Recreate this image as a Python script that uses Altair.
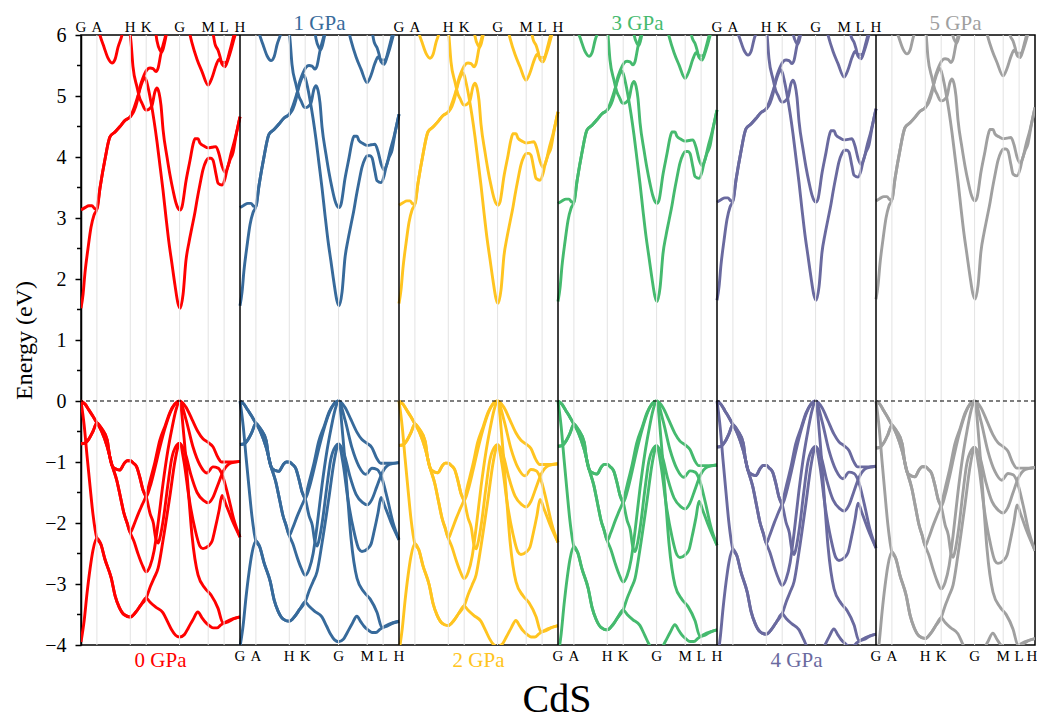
import altair as alt
import pandas as pd

# ---------------- data ----------------
PANELS = ["0 GPa", "1 GPa", "2 GPa", "3 GPa", "4 GPa", "5 GPa"]
COLORS = ["#FF0000", "#376A9B", "#FFC420", "#45BA6E", "#6A6A9F", "#A0A0A0"]
# conduction-band minimum (eV) and valence-band width factor read per panel
CBM = [1.52, 1.56, 1.60, 1.63, 1.65, 1.67]
VB_SCALE = [1.00, 1.02, 1.04, 1.06, 1.08, 1.10]

# k-path position (percent of path) of the high-symmetry points
SYM_POS = [0, 10, 31, 41, 62, 80, 90, 100]
SYM_LBL = ["G", "A", "H", "K", "G", "M", "L", "H"]

Y_TICKS = [-4, -3, -2, -1, 0, 1, 2, 3, 4, 5, 6]
Y_MINOR = [-3.5, -2.5, -1.5, -0.5, 0.5, 1.5, 2.5, 3.5, 4.5, 5.5]

# valence bands of the 0 GPa panel: (k, E)
VB1 = [(0, 0), (2.5, -0.05), (5, -0.15), (7.5, -0.25), (10, -0.36), (13, -0.45), (16.5, -0.64),
       (18, -0.9), (20, -1.08), (22.5, -1.12), (24.5, -1.13), (27, -1.03), (29, -0.98), (31, -0.98),
       (33, -1.02), (35, -1.08), (37, -1.25), (39, -1.46), (41, -1.57), (43.5, -1.85), (45.5, -2.0),
       (47, -2.25), (48.5, -2.33), (50, -2.2), (52, -1.9), (54.5, -1.4), (57, -0.95), (60, -0.73),
       (62, -0.69), (65.5, -0.85), (69, -1.2), (73, -1.5), (77, -1.63), (80, -1.67), (83, -1.58),
       (86, -1.38), (89.5, -1.15), (94, -1.02), (100, -0.99)]
VB2 = [(0, -0.7), (2.5, -0.69), (5, -0.62), (7.5, -0.5), (10, -0.36), (13, -0.5), (16.5, -0.75),
       (19.5, -1.05), (22.5, -1.3), (25, -1.6), (27, -1.84), (29, -2.0), (31, -2.16), (33, -2.05),
       (36, -1.85), (38.5, -1.7), (41, -1.55), (43.5, -1.3), (46.5, -1.0), (49.5, -0.65), (53, -0.4),
       (56, -0.18), (59, -0.05), (62, 0), (66, -0.1), (69.8, -0.3), (73.5, -0.5), (76.7, -0.62),
       (80, -0.68), (83, -0.75), (86, -0.92), (88.5, -1.0), (92.5, -1.0), (96, -1.0), (100, -0.99)]
VB3 = [(0, 0), (2, -0.4), (3.8, -0.9), (5.7, -1.4), (7.5, -1.85), (10, -2.25), (12.5, -2.35),
       (15, -2.59), (19, -2.9), (21.5, -3.2), (24, -3.38), (27, -3.5), (31, -3.54), (34.5, -3.46),
       (37.5, -3.35), (41, -3.23), (43.5, -3.3), (47, -3.38), (51.5, -3.47), (54.5, -3.62),
       (57, -3.75), (59.5, -3.84), (62, -3.87), (65, -3.83), (67.5, -3.72), (70.5, -3.58),
       (73.5, -3.46), (76, -3.55), (78, -3.62), (80.5, -3.68), (83, -3.72), (85.5, -3.72),
       (88, -3.67), (93.5, -3.59), (100, -3.54)]
VB4 = [(0, -3.95), (2, -3.6), (3.8, -3.15), (5.7, -2.75), (7.5, -2.45), (10, -2.25), (12.5, -2.35),
       (15, -2.59), (19, -2.9), (21.5, -3.2), (24, -3.38), (27, -3.5), (31, -3.54), (34.5, -3.46),
       (37.5, -3.35), (41, -3.23), (43.5, -3.05), (46, -2.9), (48.5, -2.74), (51.5, -2.3),
       (56, -1.54), (59, -1.0), (61, -0.75), (62, -0.69), (64.8, -1.0), (68, -1.6), (71.7, -2.1),
       (74.8, -2.38), (76.7, -2.42), (80, -2.38), (82.4, -2.3), (84.3, -2.1), (86.8, -1.8),
       (88.7, -1.55), (91.2, -1.7), (95, -1.95), (100, -2.23)]
VB5 = [(0, 0), (2.5, -0.05), (5, -0.15), (7.5, -0.25), (10, -0.36), (13, -0.5), (16.5, -0.75),
       (19.5, -1.05), (22.5, -1.3), (25, -1.6), (27, -1.84), (29, -2.0), (31, -2.16), (33.3, -2.3),
       (35.8, -2.5), (38.4, -2.68), (41, -2.8), (43.5, -2.7), (46, -2.45), (48.5, -2.0),
       (51.6, -1.35), (54.7, -0.8), (57.2, -0.45), (59.7, -0.15), (62, 0), (66, -0.3),
       (70.4, -0.75), (74.8, -1.05), (79.2, -1.18), (83, -1.08), (86.2, -1.1), (88.7, -1.2),
       (92.5, -1.55), (96.2, -1.95), (100, -2.23)]
VB6 = [(0, -0.7), (2.5, -0.69), (5, -0.62), (7.5, -0.5), (10, -0.36), (13, -0.45), (16.5, -0.64),
       (18, -0.9), (20, -1.08), (22.5, -1.12), (24.5, -1.13), (27, -1.03), (29, -0.98), (31, -0.98),
       (33, -1.02), (35, -1.08), (37, -1.25), (39, -1.46), (41, -1.57), (43.5, -1.4), (46.5, -1.1),
       (49.7, -0.75), (52.8, -0.45), (56, -0.2), (59, -0.05), (62, 0), (64.8, -0.6), (67.3, -1.4),
       (69.8, -2.2), (73.6, -2.85), (78, -3.07), (81.8, -3.18), (86.2, -3.4), (89.3, -3.64),
       (92.5, -3.62), (96.2, -3.57), (100, -3.54)]

# conduction bands of the 0 GPa panel: (k, E)
CB1 = [(0, 1.52), (1.3, 1.75), (2.5, 2.1), (4.4, 2.5), (6.3, 2.85), (8.2, 3.05), (10, 3.15),
       (12, 3.5), (15, 3.95), (18.2, 4.33), (21.4, 4.41), (24.5, 4.5), (27.7, 4.6), (31, 4.66),
       (33.3, 4.8), (35.8, 5.0), (38.4, 5.22), (40.3, 5.3), (42.1, 5.15), (44, 4.9), (45.9, 4.6),
       (47.8, 4.25), (49.7, 3.85), (51.6, 3.45), (53.5, 3.0), (55.3, 2.6), (57.2, 2.25),
       (59.1, 1.9), (61, 1.6), (62.3, 1.52), (64.2, 1.75), (66, 2.3), (67.9, 2.6), (69.8, 2.85),
       (71.7, 3.1), (73, 3.3), (74.8, 3.55), (76.7, 3.79), (78.6, 3.93), (80, 3.98), (81.8, 3.98),
       (83, 3.95), (84.9, 3.72), (86.2, 3.57), (88.7, 3.54), (90.6, 3.65), (91.8, 3.79),
       (93.7, 3.95), (95.6, 4.07), (97.5, 4.35), (100, 4.66)]
CB2 = [(0, 3.13), (2.5, 3.17), (5, 3.2), (6.9, 3.2), (8.8, 3.15), (10, 3.15), (12, 3.5),
       (15, 3.95), (18.2, 4.33), (21.4, 4.41), (24.5, 4.5), (27.7, 4.6), (31, 4.66), (33.3, 4.75),
       (35.2, 4.9), (37.1, 5.15), (39, 5.3), (41.5, 5.43), (43.4, 5.46), (45.3, 5.45), (47.2, 5.4),
       (48.4, 5.45), (50.3, 5.7), (52.8, 5.95), (54.7, 6.15)]
CB3 = [(30.2, 6.15), (31.4, 5.9), (32.7, 5.48), (35.2, 5.15), (37.1, 4.95), (38.4, 4.88),
       (40.3, 4.78), (41.5, 4.77), (43.4, 4.8), (44.7, 4.85), (46.5, 5.07), (47.8, 5.13),
       (49.1, 5.05), (50.3, 4.85), (51.6, 4.45), (54.1, 4.0), (56, 3.7), (57.9, 3.45),
       (59.7, 3.25), (61, 3.16), (62.3, 3.13), (63.5, 3.18), (66, 3.6), (68.6, 3.95), (70.4, 4.2),
       (71.7, 4.3), (73.6, 4.3), (74.8, 4.23), (77.4, 4.18), (80, 4.15), (82.4, 4.16),
       (84.9, 4.17), (86.8, 4.05), (88.7, 3.85), (90.6, 3.75), (92.5, 3.85), (94.3, 4.05),
       (96.9, 4.3), (100, 4.66)]
CB4 = [(10, 6.2), (11.9, 6.0), (14.5, 5.8), (17, 5.62), (19.5, 5.54), (21.4, 5.6), (23.3, 5.8),
       (25.8, 6.0), (27, 6.15)]
CB5 = [(46.5, 6.15), (47.8, 5.9), (49.7, 5.75), (50.9, 5.72), (52.8, 5.9), (54.7, 6.15)]
CB6 = [(67.3, 6.15), (69.8, 5.87), (73, 5.6), (76.1, 5.4), (79.9, 5.18), (82.4, 5.3), (84.9, 5.5),
       (86.8, 5.6), (88.7, 5.55), (91.2, 5.55), (93.7, 5.75), (96.2, 6.0), (98.1, 6.15)]
CB7 = [(82.4, 6.15), (84.3, 5.85), (86.2, 5.75), (87.4, 5.65), (88.7, 5.52), (90.6, 5.48),
       (92.5, 5.6), (94.3, 5.75), (96.9, 6.0), (98.7, 6.15)]

VALENCE = {"v1": VB1, "v2": VB2, "v3": VB3, "v4": VB4, "v5": VB5, "v6": VB6}
CONDUCTION = {"c1": CB1, "c2": CB2, "c3": CB3, "c4": CB4, "c5": CB5, "c6": CB6, "c7": CB7}

# ---------------- tables ----------------
rows = []
for p, name in enumerate(PANELS):
    for b, pts in VALENCE.items():
        for k, e in pts:
            rows.append({"x": p * 100 + k, "E": e * VB_SCALE[p], "band": f"{name}-{b}", "panel": name})
    for b, pts in CONDUCTION.items():
        for k, e in pts:
            rows.append({"x": p * 100 + k, "E": e + CBM[p] - CBM[0], "band": f"{name}-{b}", "panel": name})
bands = pd.DataFrame(rows)

grid = pd.DataFrame([{"x": p * 100 + s} for p in range(6) for s in SYM_POS[1:-1]])
seps = pd.DataFrame({"x": [100, 200, 300, 400, 500]})
lab = pd.DataFrame([{"x": p * 100 + s, "label": l, "top": p % 2 == 0, "edge": p == 5 and s == 100}
                    for p in range(6) for s, l in zip(SYM_POS, SYM_LBL)])
titles = pd.DataFrame([{"x": p * 100 + 50, "panel": n, "top": p % 2 == 1} for p, n in enumerate(PANELS)])
zero = pd.DataFrame({"E": [0]})
minor = pd.DataFrame({"E": Y_MINOR})

FONT = "Liberation Serif"
xs = alt.Scale(domain=[0, 600], nice=False, zero=False)
ys = alt.Scale(domain=[-4, 6], nice=False, zero=False)
cs = alt.Scale(domain=PANELS, range=COLORS)
YAX = alt.Axis(values=Y_TICKS, format="d", labelFont=FONT, labelFontSize=20,
               labelColor="black", labelPadding=9, tickSize=6, tickWidth=1.5,
               tickColor="black", domainColor="black", domainWidth=1.5, grid=False,
               titleFont=FONT, titleFontSize=24, titleFontWeight="normal",
               titleColor="black", titleX=-57, titleY=305, titleBaseline="middle",
               titleAngle=270)


def X():
    return alt.X("x:Q", scale=xs, axis=None)


def Y():
    return alt.Y("E:Q", scale=ys, title="Energy (eV)", axis=YAX)


gridl = alt.Chart(grid).mark_rule(color="#e3e3e3", strokeWidth=1).encode(x=X())
sepl = alt.Chart(seps).mark_rule(color="black", strokeWidth=1.5).encode(x=X())
zerol = alt.Chart(zero).mark_rule(color="black", strokeWidth=1.2, strokeDash=[4, 3]).encode(y=Y())

lines = alt.Chart(bands).mark_line(strokeWidth=2.9, interpolate="monotone", clip=True).encode(
    x=X(),
    y=Y(),
    detail="band:N",
    order="x:Q",
    color=alt.Color("panel:N", scale=cs, legend=None),
)

minorl = alt.Chart(minor).mark_rule(color="black", strokeWidth=1.5).encode(
    y=Y(), x=alt.value(-4), x2=alt.value(0))

toplab = alt.Chart(lab[lab.top]).mark_text(font=FONT, fontSize=15, baseline="alphabetic",
                                           align="center", color="black").encode(
    x=X(), y=alt.value(-3), text="label:N")
botlab = alt.Chart(lab[~lab.top & ~lab.edge]).mark_text(font=FONT, fontSize=15, baseline="alphabetic",
                                                        align="center", color="black").encode(
    x=X(), y=alt.value(626), text="label:N")
edgelab = alt.Chart(lab[lab.edge]).mark_text(font=FONT, fontSize=15, baseline="alphabetic",
                                             align="center", color="black", dx=-3).encode(
    x=X(), y=alt.value(626), text="label:N")
toptit = alt.Chart(titles[titles.top]).mark_text(font=FONT, fontSize=21, baseline="alphabetic",
                                                 align="center").encode(
    x=X(), y=alt.value(-5), text="panel:N", color=alt.Color("panel:N", scale=cs, legend=None))
bottit = alt.Chart(titles[~titles.top]).mark_text(font=FONT, fontSize=21, baseline="alphabetic",
                                                  align="center").encode(
    x=X(), y=alt.value(632), text="panel:N", color=alt.Color("panel:N", scale=cs, legend=None))
cds = alt.Chart(pd.DataFrame({"t": ["CdS"]})).mark_text(font=FONT, fontSize=40, baseline="alphabetic",
                                                       align="center", color="black").encode(
    x=alt.value(476), y=alt.value(677), text="t:N")

chart = alt.layer(lines, gridl, sepl, zerol, minorl, toplab, botlab, edgelab, toptit, bottit, cds).properties(
    width=954, height=610,
    autosize=alt.AutoSizeParams(type="none"),
    padding={"left": 73, "top": 27, "right": 2, "bottom": 78},
).configure_view(stroke="black", strokeWidth=1.5).configure_axis(
    labelFont=FONT, titleFont=FONT)

chart.save("out.html", embed_options={"renderer": "svg", "actions": False})
